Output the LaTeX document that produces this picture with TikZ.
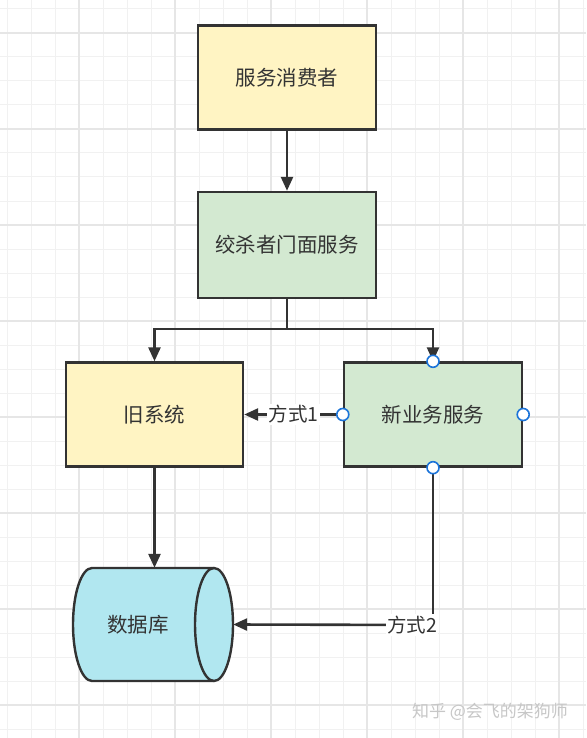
\documentclass[tikz,border=0pt]{standalone}
\usepackage{fontspec}
\newfontfamily\cjk{Noto Sans CJK SC}
\usepackage{tikz}
\usetikzlibrary{arrows.meta}

\definecolor{inkdark}{HTML}{333333}
\definecolor{boxyellow}{HTML}{FFF4C3}
\definecolor{boxgreen}{HTML}{D3E9D1}
\definecolor{dbcyan}{HTML}{B1E7F0}
\definecolor{handleblue}{HTML}{1C74D9}
\definecolor{gridminor}{HTML}{F1F1F1}
\definecolor{gridmajor}{HTML}{E6E6E6}

\tikzset{
    svcbox/.style={draw=inkdark, line width=2.4pt, rectangle, text=inkdark,
        font=\cjk\fontsize{20.5}{24}\selectfont, minimum width=178pt, minimum height=104pt},
    flow/.style={draw=inkdark, line width=2.6pt, -{Triangle[length=14pt,width=12pt]}},
    waylabel/.style={fill=white, inner sep=1.5pt, text=inkdark, font=\cjk\fontsize{19.5}{22}\selectfont},
    handle/.style={circle, draw=handleblue, fill=white, line width=1.6pt, minimum size=12pt, inner sep=0pt}
}

\begin{document}
\begin{tikzpicture}[x=1pt, y=-1pt]
        \useasboundingbox (0,0) rectangle (586,738);
        \fill[white] (0,0) rectangle (586,738);

        % grid
        \foreach \x in {7,31,...,583} \draw[gridminor, line width=1pt] (\x,0) -- (\x,738);
        \foreach \y in {9,33,...,738} \draw[gridminor, line width=1pt] (0,\y) -- (586,\y);
        \foreach \x in {79,175,...,583} \draw[gridmajor, line width=1.4pt] (\x,0) -- (\x,738);
        \foreach \y in {33,129,...,738} \draw[gridmajor, line width=1.4pt] (0,\y) -- (586,\y);

        \node[svcbox, fill=boxyellow] (consumer) at (287,77.5) {服务消费者};
        \node[svcbox, fill=boxgreen, minimum height=106pt] (facade) at (287,245) {绞杀者门面服务};
        \node[svcbox, fill=boxyellow, minimum width=177pt] (legacy) at (154.5,414.5) {旧系统};
        \node[svcbox, fill=boxgreen] (newsvc) at (433,414.5) {新业务服务};

        % database cylinder
        \filldraw[draw=inkdark, fill=dbcyan, line width=2.4pt] (214,568) -- (92,568)
            arc[start angle=90, end angle=270, x radius=19pt, y radius=56.5pt] -- (214,681)
            arc[start angle=-90, end angle=90, x radius=19pt, y radius=56.5pt] -- cycle;
        \draw[draw=inkdark, line width=2.4pt] (214,568)
            arc[start angle=90, end angle=270, x radius=19pt, y radius=56.5pt];
        \node[minimum width=160pt, minimum height=113pt, inner sep=0pt, text=inkdark,
            font=\cjk\fontsize{20.5}{24}\selectfont] (db) at (153,624.5) {\hspace*{-30pt}数据库};

        \coordinate (split) at (287,329);
        \coordinate (bend) at (433,625);

        \draw[flow] (consumer) -- (facade);
        \draw[draw=inkdark, line width=2.6pt] (facade) -- (split);
        \draw[flow] (split) -| (legacy);
        \draw[flow] (split) -| (newsvc);
        \draw[flow] (legacy.south) -- (legacy.south |- db.north);
        \draw[flow] (newsvc.west) -- node[waylabel] {方式1} (legacy.east);
        \draw[draw=inkdark, line width=2.6pt] (newsvc.south) -- (bend);
        \draw[flow] (bend) -- node[waylabel, pos=0.105] {方式2} (db.east);

        \foreach \a in {north, south, east, west}
            \node[handle] at (newsvc.\a) {};

        \node[text=black!22, font=\cjk\fontsize{17}{20}\selectfont] (mark) at (490,712) {知乎 @会飞的架狗师};
\end{tikzpicture}
\end{document}
